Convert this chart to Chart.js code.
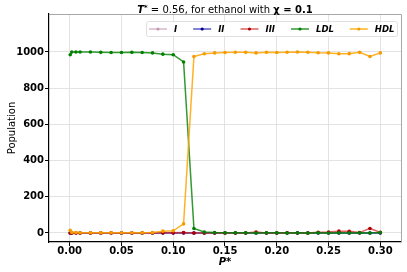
<!DOCTYPE html>
<html>
<head>
<meta charset="utf-8">
<script src="https://cdn.jsdelivr.net/npm/chart.js@4.4.0/dist/chart.umd.min.js"></script>
<style>
  html, body { margin: 0; padding: 0; background: #fff; }
  canvas { display: block; }
</style>
</head>
<body>
<canvas id="poblacionChart" width="407" height="272"></canvas>
<script>
// Valores de P* (eje x)
const presion = [0.0005, 0.002, 0.006, 0.01, 0.02, 0.03, 0.04, 0.05, 0.06, 0.07, 0.08, 0.09, 0.10,
    0.11, 0.12, 0.13, 0.14, 0.15, 0.16, 0.17, 0.18, 0.19, 0.20, 0.21, 0.22, 0.23, 0.24, 0.25,
    0.26, 0.27, 0.28, 0.29, 0.30];

// Poblaciones
const popI = [0, 0, 0, 0, 0, 0, 0, 0, 0, 0, 0, 0, 0, 0, 0, 0, 0, 0, 0, 0, 0, 0, 0, 0, 0, 0, 0, 0, 0, 0, 0, 0, 0];
const popII = [0, 0, 0, 0, 0, 0, 0, 0, 0, 0, 0, 0, 0, 0, 0, 0, 0, 0, 0, 0, 0, 0, 0, 0, 0, 0, 0, 0, 0, 0, 0, 0, 0];
const popIII = [0, 0, 0, 0, 0, 0, 0, 0, 0, 0, 0, 1, 1, 2, 0, 0, 0, 0, 0, 0, 5, 0, 0, 1, 0, 0, 4, 5, 10, 9, 2, 25, 3];
const popLDL = [985, 1000, 1000, 1000, 1000, 998, 997, 997, 998, 997, 995, 988, 985, 945,
    25, 5, 2, 1, 1, 1, 0, 1, 1, 0, 1, 0, 1, 0, 1, 0, 1, 0, 2];
const popHDL = [15, 3, 2, 1, 1, 1, 1, 1, 1, 1, 2, 10, 12, 50,
    975, 990, 995, 997, 999, 998, 995, 999, 997, 999, 1000, 999, 996, 995, 990, 991, 998, 975, 995];

const etiquetas = ['I', 'II', 'III', 'LDL', 'HDL'];
const ticksX = [0, 0.05, 0.10, 0.15, 0.20, 0.25, 0.30];
const ticksY = [0, 200, 400, 600, 800, 1000];

const lineas = ['rgba(200, 160, 185, 0.75)', 'rgba(0, 0, 170, 0.65)', 'rgba(205, 30, 30, 0.7)',
    'rgba(0, 128, 0, 0.8)', 'rgba(255, 165, 0, 0.85)'];
const marcas = ['#c29cb2', '#00008b', '#b00000', '#008000', '#f59b00'];

// Titulo con partes en negrita / cursiva
const tituloPlugin = {
    id: 'tituloPlugin',
    afterDraw(chart) {
        const c = chart.ctx;
        const partes = [
            { t: 'T', f: 'italic bold 10px "DejaVu Sans"', dy: 0 },
            { t: '*', f: 'italic bold 7px "DejaVu Sans"', dy: -3 },
            { t: ' = 0.56, for ethanol with ', f: '10px "DejaVu Sans"', dy: 0 },
            { t: 'χ = 0.1', f: 'bold 10px "DejaVu Sans"', dy: 0 }
        ];
        c.save();
        let total = 0;
        partes.forEach(p => { c.font = p.f; p.w = c.measureText(p.t).width; total += p.w; });
        const area = chart.chartArea;
        let x = (area.left + area.right) / 2 - total / 2;
        c.fillStyle = '#000';
        c.textBaseline = 'alphabetic';
        partes.forEach(p => {
            c.font = p.f;
            c.fillText(p.t, x, 13 + p.dy);
            x += p.w;
        });
        c.restore();
    }
};

// Bordes grises arriba y a la derecha
const bordesPlugin = {
    id: 'bordesPlugin',
    afterDatasetsDraw(chart) {
        const c = chart.ctx;
        const a = chart.chartArea;
        c.save();
        c.strokeStyle = '#a8a8a8';
        c.lineWidth = 1;
        c.beginPath();
        c.moveTo(a.left, a.top + 0.5);
        c.lineTo(a.right + 0.5, a.top + 0.5);
        c.lineTo(a.right + 0.5, a.bottom);
        c.stroke();
        c.restore();
    }
};

// Leyenda dentro del area del grafico
const leyendaPlugin = {
    id: 'leyendaPlugin',
    afterDraw(chart) {
        const c = chart.ctx;
        c.save();
        c.font = 'italic bold 8.5px "DejaVu Sans"';
        c.fillStyle = 'rgba(255, 255, 255, 0.85)';
        c.strokeStyle = '#d8d8d8';
        c.lineWidth = 0.8;
        c.beginPath();
        c.roundRect(146.5, 21.5, 251, 15, 2);
        c.fill();
        c.stroke();
        let x = 149;
        const yc = 29;
        chart.data.datasets.forEach((ds, i) => {
            c.strokeStyle = lineas[i];
            c.lineWidth = 1.5;
            c.beginPath();
            c.moveTo(x, yc);
            c.lineTo(x + 18, yc);
            c.stroke();
            c.fillStyle = marcas[i];
            c.beginPath();
            c.arc(x + 9, yc, 1.6, 0, 2 * Math.PI);
            c.fill();
            x += 25;
            c.fillStyle = '#000';
            c.textBaseline = 'middle';
            c.fillText(ds.label, x, yc + 0.5);
            x += c.measureText(ds.label).width + 16;
        });
        c.restore();
    }
};

function createPoblacionChart() {
    const ctx = document.getElementById('poblacionChart').getContext('2d');
    const series = [popI, popII, popIII, popLDL, popHDL];

    const datasets = series.map((valores, i) => ({
        label: etiquetas[i],
        data: presion.map((p, j) => ({ x: p, y: valores[j] })),
        showLine: true,
        borderColor: lineas[i],
        borderWidth: 1.5,
        pointRadius: 1.8,
        pointBorderWidth: 0,
        pointBackgroundColor: marcas[i],
        order: 5 - i
    }));

    const tickFont = { family: 'DejaVu Sans', size: 10, weight: 'bold' };

    new Chart(ctx, {
        type: 'scatter',
        data: { datasets: datasets },
        options: {
            responsive: false,
            animation: false,
            layout: { padding: { top: 14, right: 6, left: 0, bottom: 0 } },
            scales: {
                x: {
                    type: 'linear',
                    min: -0.02,
                    max: 0.32,
                    afterBuildTicks: s => { s.ticks = ticksX.map(v => ({ value: v })); },
                    afterFit: s => { s.height = 30; },
                    ticks: { callback: v => v.toFixed(2), font: tickFont, color: '#000', padding: -1, maxRotation: 0 },
                    grid: { color: '#dcdcdc', lineWidth: 0.8, tickColor: '#000', tickLength: 4, tickWidth: 1 },
                    border: { color: '#000', width: 1.2 },
                    title: {
                        display: true,
                        text: 'P*',
                        color: '#000',
                        font: { family: 'DejaVu Sans', size: 10, weight: 'bold', style: 'italic' },
                        padding: { top: 0, bottom: 4 }
                    }
                },
                y: {
                    type: 'linear',
                    min: -50,
                    max: 1210,
                    afterBuildTicks: s => { s.ticks = ticksY.map(v => ({ value: v })); },
                    afterFit: s => { s.width = 49; },
                    ticks: { callback: v => String(v), font: tickFont, color: '#000', padding: 1 },
                    grid: { color: '#dcdcdc', lineWidth: 0.8, tickColor: '#000', tickLength: 4, tickWidth: 1 },
                    border: { color: '#000', width: 1.2 },
                    title: {
                        display: true,
                        text: 'Population',
                        color: '#000',
                        font: { family: 'DejaVu Sans', size: 10 },
                        padding: { top: 6, bottom: 0 }
                    }
                }
            },
            plugins: {
                legend: { display: false },
                tooltip: { enabled: false },
                title: { display: false }
            }
        },
        plugins: [bordesPlugin, tituloPlugin, leyendaPlugin]
    });
}

document.addEventListener('DOMContentLoaded', createPoblacionChart);
</script>
</body>
</html>
